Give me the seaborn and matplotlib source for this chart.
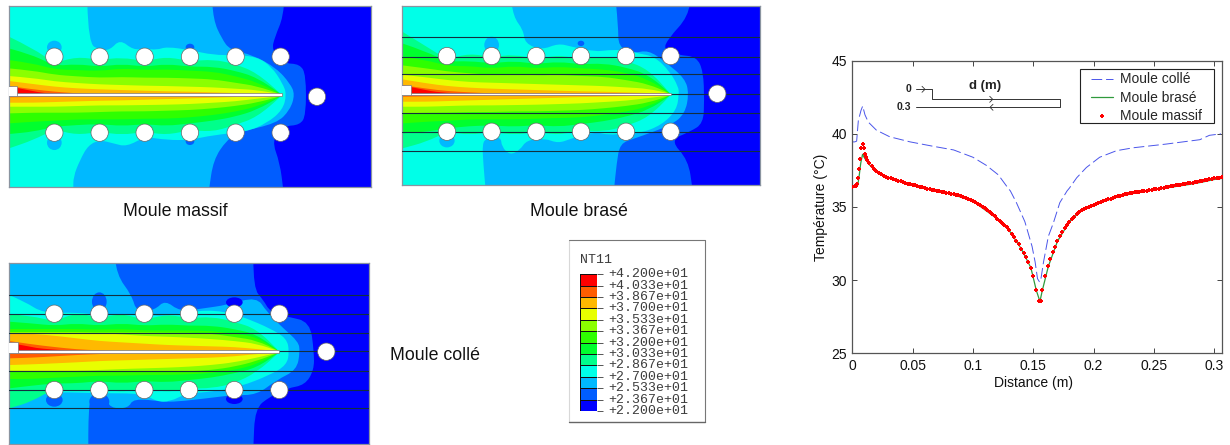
import numpy as np
import pandas as pd
import seaborn as sns
import matplotlib
matplotlib.use("Agg")
import matplotlib.pyplot as plt
from matplotlib.colors import ListedColormap
from matplotlib.path import Path
from matplotlib.patches import PathPatch, Circle, Ellipse, Rectangle

W, H = 1230, 445

# nodal temperature bands, coldest first
BAND_COLORS = ['#0000ff', '#005dff', '#00b9ff', '#00ffe8', '#00ff8b', '#00ff2e',
               '#2eff00', '#8bff00', '#e8ff00', '#ffb900', '#ff5d00', '#ff0000']
BAND_LABELS = ['+4.200e+01', '+4.033e+01', '+3.867e+01', '+3.700e+01', '+3.533e+01',
               '+3.367e+01', '+3.200e+01', '+3.033e+01', '+2.867e+01', '+2.700e+01',
               '+2.533e+01', '+2.367e+01', '+2.200e+01']
BAND_MID = [41.17, 39.5, 37.83, 36.17, 34.5, 32.83, 31.17, 29.5, 27.83, 26.17, 24.5, 22.83]

# --- isotherms, in crop pixels (3x) ---
# outer isotherms: (x list, y list) from the top edge to the bottom edge
MASSIF_L0 = ([852, 850, 825, 815, 850, 900, 918, 918, 900, 850, 815, 840, 850],
             [10, 50, 110, 150, 190, 192, 225, 345, 375, 378, 420, 490, 570])
MASSIF_L1 = ([637, 640, 665, 690, 760, 830, 870, 885, 870, 830, 720, 680, 640, 627],
             [10, 60, 115, 150, 165, 205, 250, 283, 330, 370, 395, 420, 480, 570])
MASSIF_L2 = ([262, 265, 300, 330, 360, 400, 435, 470, 500, 570, 640, 705, 770, 815, 848, 860,
              848, 800, 740, 640, 570, 500, 435, 380, 340, 300, 265, 240, 220, 220],
             [10, 130, 150, 150, 118, 150, 145, 150, 140, 150, 165, 165, 170, 200, 250, 283,
              330, 370, 395, 405, 420, 420, 410, 440, 430, 420, 435, 480, 530, 570])
BRASE_L0 = ([885, 880, 820, 805, 850, 905, 925, 928, 925, 885, 825, 880, 893],
            [10, 50, 115, 150, 165, 170, 215, 300, 370, 395, 420, 480, 570])
BRASE_L1 = ([663, 670, 670, 715, 760, 810, 870, 882, 870, 830, 720, 675, 665, 657],
            [10, 80, 140, 160, 150, 185, 235, 281, 340, 375, 415, 430, 490, 570])
BRASE_L2 = ([350, 355, 385, 390, 440, 490, 530, 600, 640, 690, 730, 780, 825, 850, 852, 845, 800,
             735, 690, 640, 600, 530, 490, 450, 395, 375, 345, 320, 318, 275, 262, 265, 272],
            [10, 50, 90, 130, 150, 130, 140, 155, 150, 150, 160, 170, 215, 260, 281, 330, 375,
             400, 400, 405, 395, 415, 430, 415, 420, 450, 465, 440, 410, 415, 430, 490, 570])
COLLE_L0 = ([760, 760, 790, 810, 860, 930, 942, 942, 915, 860, 810, 765, 760],
            [10, 100, 135, 170, 185, 200, 290, 345, 390, 400, 425, 460, 580])
COLLE_L1 = ([345, 350, 395, 410, 465, 495, 540, 610, 680, 770, 800, 850, 895, 900, 890, 830, 770,
             700, 620, 530, 490, 400, 385, 330, 315, 270, 265, 265],
            [10, 60, 120, 172, 165, 135, 170, 160, 150, 125, 170, 220, 260, 290, 345, 375, 420,
             420, 430, 440, 440, 430, 460, 460, 420, 420, 500, 580])
COLLE_L2 = ([28, 75, 130, 230, 300, 400, 490, 600, 680, 740, 810, 860, 868, 860, 810, 720, 640,
             560, 510, 470, 430, 300, 150, 90, 28],
            [120, 140, 175, 172, 180, 175, 185, 165, 170, 190, 220, 250, 290, 330, 360, 395, 410,
             415, 440, 440, 415, 415, 410, 430, 460])

# inner isotherms: y at each station, one row per level, above and below the slit
MASSIF_X = [27, 100, 163, 230, 300, 365, 435, 500, 570, 640, 705, 770, 845]
MASSIF_TOP = [[110, 145, 190, 170, 180, 172, 184, 170, 184, 178, 192, 218, 283],
              [145, 165, 198, 192, 200, 192, 200, 192, 200, 200, 212, 232, 283],
              [180, 190, 208, 210, 213, 205, 210, 208, 212, 215, 228, 246, 283],
              [205, 212, 224, 229, 233, 231, 233, 233, 235, 238, 248, 258, 283],
              [228, 234, 244, 249, 253, 255, 257, 258, 260, 262, 266, 270, 283],
              [243, 252, 260, 265, 268, 270, 272, 274, 275, 277, 279, 282, 283],
              [258, 268, 275, 280, 282, 283, 283, 283, 283, 283, 283, 283, 283],
              [258, 275, 282, 283, 283, 283, 283, 283, 283, 283, 283, 283, 283]]
MASSIF_BOT = [[445, 420, 388, 405, 395, 405, 395, 405, 390, 395, 375, 352, 288],
              [402, 395, 380, 375, 372, 378, 372, 378, 370, 362, 350, 330, 288],
              [370, 365, 362, 358, 358, 358, 356, 356, 352, 345, 335, 320, 288],
              [340, 338, 338, 338, 336, 334, 334, 332, 330, 325, 318, 308, 288],
              [320, 320, 320, 318, 316, 316, 315, 314, 312, 308, 304, 296, 288],
              [308, 308, 306, 304, 302, 301, 299, 297, 295, 293, 291, 289, 288],
              [292, 291, 290, 289, 288, 288, 288, 288, 288, 288, 288, 288, 288],
              [289, 288, 288, 288, 288, 288, 288, 288, 288, 288, 288, 288, 288]]
BRASE_X = [22, 95, 156, 224, 290, 357, 424, 491, 558, 625, 693, 760, 827]
BRASE_TOP = [[95, 140, 178, 160, 172, 163, 178, 165, 178, 168, 182, 208, 281],
             [130, 155, 185, 183, 190, 183, 192, 185, 193, 190, 202, 224, 281],
             [170, 180, 198, 198, 205, 198, 205, 200, 205, 208, 218, 238, 281],
             [196, 205, 214, 220, 224, 222, 226, 224, 228, 230, 240, 252, 281],
             [224, 232, 240, 246, 248, 250, 252, 254, 256, 258, 262, 266, 281],
             [238, 250, 258, 263, 266, 268, 270, 272, 274, 275, 277, 279, 281],
             [255, 266, 273, 277, 280, 281, 281, 281, 281, 281, 281, 281, 281],
             [255, 272, 279, 281, 281, 281, 281, 281, 281, 281, 281, 281, 281]]
BRASE_BOT = [[445, 425, 395, 405, 395, 405, 395, 405, 390, 395, 378, 352, 286],
             [400, 395, 385, 378, 376, 380, 375, 380, 372, 364, 350, 330, 286],
             [370, 365, 362, 358, 358, 358, 356, 354, 352, 345, 335, 320, 286],
             [340, 338, 338, 336, 336, 334, 334, 332, 330, 325, 318, 308, 286],
             [320, 320, 318, 316, 316, 315, 314, 312, 310, 306, 302, 294, 286],
             [305, 305, 303, 301, 299, 297, 295, 293, 291, 290, 288, 287, 286],
             [290, 289, 288, 287, 286, 286, 286, 286, 286, 286, 286, 286, 286],
             [287, 286, 286, 286, 286, 286, 286, 286, 286, 286, 286, 286, 286]]
COLLE_X = [28, 95, 163, 230, 298, 365, 433, 500, 567, 635, 703, 770, 838]
COLLE_TOP = [[178, 182, 200, 172, 190, 175, 195, 178, 190, 185, 200, 222, 289],
             [200, 205, 212, 205, 212, 205, 212, 208, 212, 212, 222, 238, 289],
             [222, 222, 222, 222, 224, 222, 226, 226, 226, 228, 236, 246, 289],
             [232, 232, 232, 232, 232, 232, 232, 233, 233, 236, 246, 256, 289],
             [233, 233, 233, 233, 234, 238, 243, 245, 248, 252, 258, 266, 289],
             [234, 236, 242, 250, 258, 262, 266, 270, 272, 274, 276, 282, 289],
             [258, 268, 276, 283, 286, 289, 289, 289, 289, 289, 289, 289, 289],
             [262, 278, 284, 288, 289, 289, 289, 289, 289, 289, 289, 289, 289]]
COLLE_BOT = [[460, 440, 400, 412, 400, 412, 398, 412, 400, 400, 385, 352, 292],
             [400, 392, 385, 385, 378, 385, 378, 382, 375, 368, 355, 338, 292],
             [372, 372, 368, 365, 362, 362, 360, 360, 358, 354, 345, 328, 292],
             [349, 349, 349, 349, 349, 349, 349, 349, 349, 345, 335, 318, 292],
             [347, 347, 347, 347, 345, 342, 340, 338, 335, 330, 322, 308, 292],
             [330, 328, 325, 322, 318, 316, 314, 312, 310, 308, 304, 297, 292],
             [310, 308, 304, 300, 297, 295, 293, 292, 292, 292, 292, 292, 292],
             [297, 295, 293, 292, 292, 292, 292, 292, 292, 292, 292, 292, 292]]

# holes and glue lines of each mould
MASSIF_HOLES_X = [163, 299, 434, 570, 707, 842]
BRASE_HOLES_X = [156, 290, 424, 558, 693, 827]
COLLE_HOLES_X = [163, 298, 433, 567, 703, 838]
BRASE_LINES = [112, 170, 223, 338, 395, 452]
COLLE_LINES = [120, 177, 233, 347, 405, 460]
# cold pockets next to the holes: x, y, width, height, band index
MASSIF_POCKETS = [(163, 142, 44, 40, 2), (163, 428, 44, 44, 2), (570, 142, 26, 22, 1), (570, 424, 26, 22, 1)]
BRASE_POCKETS = [(290, 135, 44, 50, 2), (156, 422, 46, 40, 2), (558, 130, 20, 16, 1)]
COLLE_POCKETS = [(298, 140, 44, 56, 1), (163, 435, 50, 40, 1), (298, 440, 60, 50, 1),
                 (703, 142, 50, 30, 0), (703, 432, 50, 30, 0), (433, 140, 20, 14, 1)]

# --- temperature along the cavity ---
D_MASSIF = [0.000, 0.002, 0.003, 0.004, 0.005, 0.0055, 0.0065, 0.0075, 0.0085, 0.0095, 0.0105, 0.0115,
            0.0125, 0.014, 0.016, 0.018, 0.020, 0.022, 0.024, 0.026, 0.028, 0.030, 0.032, 0.034,
            0.036, 0.038, 0.040, 0.042, 0.044, 0.046, 0.048, 0.050, 0.052, 0.054, 0.056, 0.058,
            0.060, 0.062, 0.064, 0.066, 0.068, 0.070, 0.072, 0.074, 0.076, 0.078, 0.080, 0.082,
            0.084, 0.086, 0.088, 0.090, 0.092, 0.094, 0.096, 0.098, 0.100, 0.102, 0.104, 0.106,
            0.108, 0.110, 0.112, 0.114, 0.116, 0.118, 0.120, 0.122, 0.124, 0.126, 0.128, 0.130,
            0.132, 0.134, 0.136, 0.138, 0.140, 0.142, 0.144, 0.146, 0.148, 0.150, 0.1525, 0.1548,
            0.156, 0.1575, 0.1597, 0.162, 0.164, 0.166, 0.168, 0.170, 0.172, 0.174, 0.176, 0.178,
            0.180, 0.182, 0.184, 0.186, 0.188, 0.190, 0.192, 0.194, 0.196, 0.198, 0.200, 0.202,
            0.204, 0.206, 0.208, 0.210, 0.212, 0.214, 0.216, 0.218, 0.220, 0.222, 0.224, 0.226,
            0.228, 0.230, 0.232, 0.234, 0.236, 0.238, 0.240, 0.242, 0.244, 0.246, 0.248, 0.250,
            0.252, 0.254, 0.256, 0.258, 0.260, 0.262, 0.264, 0.266, 0.268, 0.270, 0.272, 0.274,
            0.276, 0.278, 0.280, 0.282, 0.284, 0.286, 0.288, 0.290, 0.292, 0.294, 0.296, 0.298,
            0.300, 0.302, 0.304, 0.306]
T_MASSIF = [36.40, 36.42, 36.45, 36.55, 36.95, 37.6, 38.3, 39.0, 39.3, 39.0, 38.6, 38.4,
            38.2, 38.0, 37.8, 37.6, 37.45, 37.35, 37.25, 37.15, 37.07, 37.0, 36.95, 36.9,
            36.85, 36.8, 36.75, 36.7, 36.65, 36.6, 36.57, 36.53, 36.48, 36.44, 36.4, 36.35,
            36.3, 36.26, 36.22, 36.18, 36.14, 36.1, 36.07, 36.04, 36.0, 35.97, 35.94, 35.9,
            35.87, 35.83, 35.79, 35.75, 35.69, 35.62, 35.55, 35.48, 35.4, 35.31, 35.22, 35.12,
            35.02, 34.9, 34.78, 34.65, 34.52, 34.37, 34.2, 34.05, 33.9, 33.8, 33.6, 33.4,
            33.15, 32.95, 32.7, 32.45, 32.15, 31.85, 31.6, 31.25, 30.85, 30.3, 29.3, 28.6,
            28.6, 29.3, 30.3, 30.95, 31.45, 31.9, 32.3, 32.65, 33.0, 33.3, 33.55, 33.8,
            34.0, 34.2, 34.35, 34.5, 34.65, 34.78, 34.88, 34.95, 35.02, 35.08, 35.14, 35.2,
            35.27, 35.33, 35.4, 35.46, 35.52, 35.58, 35.63, 35.68, 35.73, 35.78, 35.82, 35.86,
            35.9, 35.94, 35.98, 36.0, 36.03, 36.05, 36.08, 36.1, 36.12, 36.15, 36.18, 36.2,
            36.22, 36.26, 36.3, 36.33, 36.36, 36.4, 36.42, 36.45, 36.48, 36.5, 36.53, 36.56,
            36.58, 36.62, 36.65, 36.67, 36.7, 36.73, 36.76, 36.8, 36.83, 36.87, 36.9, 36.93,
            36.96, 36.98, 37.0, 37.02]
D_BRASE = [0.000, 0.003, 0.0045, 0.0055, 0.007, 0.0085, 0.0105, 0.014, 0.020, 0.030, 0.040, 0.060,
           0.080, 0.100, 0.120, 0.130, 0.140, 0.148, 0.1525, 0.1555, 0.1575, 0.1625, 0.170, 0.180,
           0.190, 0.200, 0.220, 0.240, 0.260, 0.280, 0.290, 0.300, 0.306]
T_BRASE = [36.35, 36.38, 36.5, 37.0, 38.0, 38.6, 38.3, 37.9, 37.4, 37.0, 36.72, 36.3,
           35.94, 35.4, 34.2, 33.4, 32.15, 30.85, 29.3, 28.55, 29.3, 30.95, 32.65, 34.0,
           34.78, 35.14, 35.7, 36.05, 36.3, 36.55, 36.7, 36.88, 36.95]
D_COLLE = [0.000, 0.002, 0.0036, 0.005, 0.0072, 0.0086, 0.0105, 0.0133, 0.020, 0.031, 0.048, 0.067,
           0.084, 0.100, 0.111, 0.121, 0.129, 0.131, 0.136, 0.143, 0.149, 0.1515, 0.1535, 0.155,
           0.156, 0.1585, 0.1625, 0.1666, 0.172, 0.178, 0.180, 0.186, 0.194, 0.205, 0.219, 0.233,
           0.260, 0.288, 0.296, 0.3055]
T_COLLE = [39.45, 39.45, 39.5, 40.9, 41.6, 41.9, 41.3, 40.8, 40.25, 39.8, 39.45, 39.15,
           38.9, 38.4, 37.85, 37.2, 36.3, 36.1, 35.3, 34.0, 32.3, 31.25, 30.1, 29.9,
           29.9, 31.25, 33.0, 33.9, 35.3, 36.1, 36.3, 37.0, 37.7, 38.4, 38.85, 39.05,
           39.3, 39.6, 39.9, 40.0]
X_TICKS = [0, 0.05, 0.1, 0.15, 0.2, 0.25, 0.3]
X_TICK_LABELS = ['0', '0.05', '0.1', '0.15', '0.2', '0.25', '0.3']
Y_TICKS = [25, 30, 35, 40, 45]


def px_axes(fig, left, top, width, height, **kw):
    return fig.add_axes([left / W, 1 - (top + height) / H, width / W, height / H], **kw)


def smooth_region(xs, ys, x_far):
    # closes an isotherm towards the left side of the map, smoothing the read points
    pts = list(zip(xs, ys))
    verts = [pts[0]]
    codes = [Path.MOVETO]
    for a, b in zip(pts[1:-1], pts[2:]):
        verts += [a, ((a[0] + b[0]) / 2, (a[1] + b[1]) / 2)]
        codes += [Path.CURVE3, Path.CURVE3]
    verts += [pts[-1], (x_far, ys[-1]), (x_far, ys[0]), pts[0]]
    codes += [Path.LINETO, Path.LINETO, Path.LINETO, Path.CLOSEPOLY]
    return Path(verts, codes)


def draw_mould(fig, box, crop, outer, st_x, top, bot, holes_x, hole_y, extra, slit, notch, lines, pockets):
    ax = px_axes(fig, *box)
    ax.set_xlim(crop[0], crop[1])
    ax.set_ylim(crop[3], crop[2])
    ax.set_xticks([])
    ax.set_yticks([])
    ax.set_facecolor(BAND_COLORS[0])
    for sp in ax.spines.values():
        sp.set_color('#8a94a0')
        sp.set_linewidth(0.9)
    far = crop[0] - 80
    for i, (xs, ys) in enumerate(outer):
        ax.add_patch(PathPatch(smooth_region(xs, ys, far), fc=BAND_COLORS[i + 1], ec='none', zorder=1))
    for (px, py, pw, ph, band) in pockets:
        ax.add_patch(Ellipse((px, py), pw, ph, fc=BAND_COLORS[band], ec='none', zorder=1.5))
    for i in range(len(top)):
        xs = st_x + st_x[::-1]
        ys = top[i] + bot[i][::-1]
        ax.add_patch(PathPatch(smooth_region(xs, ys, far), fc=BAND_COLORS[i + 4], ec='none', zorder=2))
    for yl in lines:
        ax.axhline(yl, color='#123040', lw=0.8, zorder=3)
    if lines:
        ax.plot([st_x[-1], crop[1]], [slit[0] + 3, slit[0] + 3], color='#123040', lw=0.8, zorder=3)
    # slit and notch
    ax.add_patch(Rectangle((crop[0], slit[0]), st_x[-1] - crop[0], slit[1] - slit[0], fc='white',
                           ec='#777777', lw=0.5, zorder=4))
    ax.add_patch(Rectangle((crop[0] - 5, notch[0]), notch[1] - crop[0] + 5, slit[1] - notch[0], fc='white',
                           ec='#777777', lw=0.5, zorder=4))
    for hx in holes_x:
        for hy in hole_y:
            ax.add_patch(Circle((hx, hy), 26, fc='white', ec='#666666', lw=0.5, zorder=5))
    ax.add_patch(Circle(extra, 26, fc='white', ec='#666666', lw=0.5, zorder=5))
    return ax


sns.set_style("ticks")
plt.rcParams['font.family'] = ['Liberation Sans', 'DejaVu Sans']

fig = plt.figure(figsize=(W / 100, H / 100), dpi=100, facecolor='white')

draw_mould(fig, (9, 5.7, 362.3, 181), (27, 1114, 17, 560),
           [MASSIF_L0, MASSIF_L1, MASSIF_L2], MASSIF_X, MASSIF_TOP, MASSIF_BOT,
           MASSIF_HOLES_X, [170, 398], (951, 290), (280, 288), (258, 52), [], MASSIF_POCKETS)
draw_mould(fig, (402.3, 5.7, 358, 179.7), (22, 1096, 17, 556),
           [BRASE_L0, BRASE_L1, BRASE_L2], BRASE_X, BRASE_TOP, BRASE_BOT,
           BRASE_HOLES_X, [168, 395], (967, 281), (278, 286), (255, 48), BRASE_LINES, BRASE_POCKETS)
draw_mould(fig, (9.3, 262.7, 359.7, 181.3), (28, 1107, 23, 567),
           [COLLE_L0, COLLE_L1, COLLE_L2], COLLE_X, COLLE_TOP, COLLE_BOT,
           COLLE_HOLES_X, [176, 405], (979, 290), (286, 294), (262, 55), COLLE_LINES, COLLE_POCKETS)

# temperature profile
ax = px_axes(fig, 852.3, 60.7, 369.7, 292.6)
sns.lineplot(x=D_COLLE, y=T_COLLE, ax=ax, color='#4a55ea', lw=0.7, linestyle=(0, (11, 4)),
             estimator=None, sort=False, label='Moule collé')
sns.lineplot(x=D_BRASE, y=T_BRASE, ax=ax, color='#2f9a3c', lw=0.9,
             estimator=None, sort=False, label='Moule brasé')
sns.scatterplot(x=D_MASSIF, y=T_MASSIF, ax=ax, color='#ff0000', marker='P', s=10, linewidth=0,
                label='Moule massif', zorder=3)
ax.set_xlim(0, 0.3064)
ax.set_ylim(25, 45)
ax.set_xticks(X_TICKS, X_TICK_LABELS)
ax.set_yticks(Y_TICKS)
ax.tick_params(direction='in', top=True, right=True, length=3.5, width=0.7, labelsize=10,
               color='#444444', labelcolor='#111111', pad=4)
for sp in ax.spines.values():
    sp.set_visible(True)
    sp.set_color('#555555')
    sp.set_linewidth(0.9)
ax.set_xlabel('Distance (m)', fontsize=10, color='#111111')
ax.xaxis.set_label_coords((1033.5 - 852.3) / 369.7, -(383 - 353.3) / 292.6, transform=ax.transAxes)
ax.xaxis.label.set_va('center')
ax.set_ylabel('Température (°C)', fontsize=10, color='#111111', labelpad=2)
ax.legend(loc='upper left', bbox_to_anchor=(1091 / W, 1 - 72.4 / H), bbox_transform=fig.transFigure,
          frameon=False, fontsize=10, borderpad=0, labelspacing=0.3, handlelength=1.6,
          handletextpad=0.5, borderaxespad=0)

# colour key
key = px_axes(fig, 580, 274.3, 16.7, 136.7)
sns.heatmap(np.array(BAND_MID).reshape(-1, 1), ax=key, cmap=ListedColormap(BAND_COLORS), vmin=22, vmax=42,
            cbar=False, linewidths=0.5, linecolor='#111111', xticklabels=False)
key.set_yticks(np.arange(len(BAND_LABELS)))
key.set_yticklabels(BAND_LABELS, rotation=0, family=['Liberation Mono', 'DejaVu Sans Mono'], fontsize=9.5,
                    color='#3c3c3c', va='center')
key.yaxis.tick_right()
key.tick_params(axis='y', length=4.5, width=0.7, color='#555555', pad=4, right=True, left=False)
key.set_ylim(12, 0)

# page-level texts and the cavity sketch, in image pixels
page = fig.add_axes([0, 0, 1, 1], facecolor='none')
page.set_xlim(0, W)
page.set_ylim(H, 0)
page.axis('off')
page.text(175.5, 211, 'Moule massif', fontsize=12.8, ha='center', va='center', color='#111111')
page.text(578.5, 211, 'Moule brasé', fontsize=12.8, ha='center', va='center', color='#111111')
page.text(434.5, 355, 'Moule collé', fontsize=12.8, ha='center', va='center', color='#111111')
page.plot([569, 569], [240, 422], color='#d8d8d8', lw=0.8)
page.plot([569, 705, 705], [240, 240, 422], color='#777777', lw=0.8)
page.plot([569, 705], [422, 422], color='#666666', lw=1.0)
page.text(580, 260, 'NT11', family=['Liberation Mono', 'DejaVu Sans Mono'], fontsize=9.5, va='center',
          color='#3c3c3c')
page.add_patch(Rectangle((1080.3, 69.3), 134, 53.7, fc='none', ec='#222222', lw=0.8))
page.plot([916, 931.7, 931.7, 1060, 1060, 916], [89.3, 89.3, 99.3, 99.3, 107.3, 107.3], color='#333333', lw=0.7)
for cx, cy, sgn in [(925, 89.3, 1), (992.7, 99.3, 1), (990, 107.3, -1)]:
    page.plot([cx - sgn * 3, cx, cx - sgn * 3], [cy - 3, cy, cy + 3], color='#333333', lw=0.6)
page.text(911, 89, '0', fontsize=7.5, fontweight='bold', ha='right', va='center', color='#222222')
page.text(911, 106.7, '0.3', fontsize=7.5, fontweight='bold', ha='right', va='center', color='#222222')
page.text(985, 85.5, 'd (m)', fontsize=9.5, fontweight='bold', ha='center', va='center', color='#222222')

fig.savefig('out.png', dpi=100)
